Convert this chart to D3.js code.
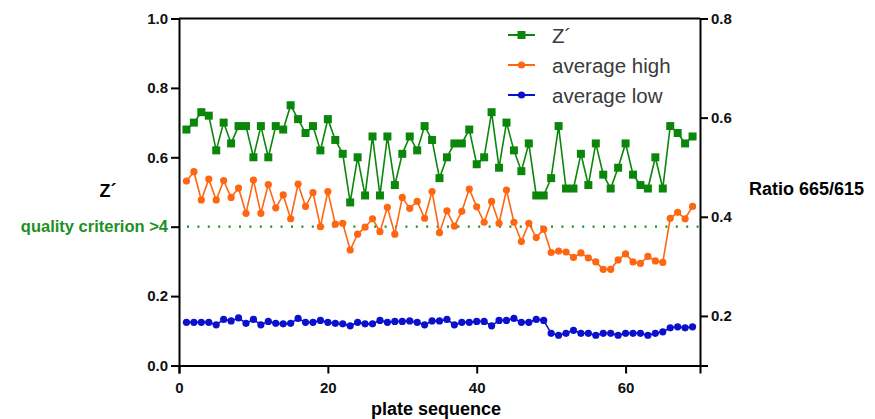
<!DOCTYPE html>
<html>
<head>
<meta charset="utf-8">
<script src="https://cdn.jsdelivr.net/npm/d3@7"></script>
<style>
  body { margin: 0; background: #fff; }
  svg { font-family: "Liberation Sans", Arial, sans-serif; }
</style>
</head>
<body>
<svg id="chart" width="875" height="419"></svg>
<script>
// waarden, plaat 1..69
const zPrime = [0.68,0.70,0.73,0.72,0.62,0.70,0.64,0.69,0.69,0.60,0.69,0.60,0.69,0.68,0.75,0.71,0.67,0.69,0.62,0.71,0.65,0.61,0.47,
    0.60,0.49,0.66,0.49,0.66,0.52,0.61,0.66,0.62,0.69,0.65,0.54,0.60,0.64,0.64,0.68,0.58,0.60,0.73,0.57,0.70,0.62,0.56,0.64,
    0.49,0.49,0.54,0.69,0.51,0.51,0.61,0.52,0.64,0.55,0.51,0.57,0.64,0.55,0.52,0.51,0.60,0.51,0.69,0.67,0.64,0.66];

const avgHigh = [0.472,0.491,0.434,0.476,0.434,0.473,0.439,0.458,0.407,0.474,0.407,0.465,0.418,0.444,0.396,0.466,0.421,0.449,0.380,0.451,0.385,0.387,0.333,
    0.365,0.379,0.396,0.370,0.419,0.365,0.439,0.417,0.431,0.397,0.451,0.368,0.412,0.381,0.411,0.456,0.420,0.389,0.431,0.387,0.454,0.389,0.350,0.387,
    0.358,0.375,0.328,0.331,0.329,0.318,0.327,0.317,0.309,0.294,0.294,0.313,0.325,0.309,0.306,0.320,0.311,0.308,0.397,0.409,0.396,0.421];

const avgLow = [0.187,0.187,0.187,0.187,0.182,0.193,0.190,0.196,0.185,0.193,0.182,0.189,0.185,0.184,0.185,0.195,0.187,0.187,0.191,0.187,0.185,0.184,0.180,
    0.187,0.184,0.184,0.191,0.187,0.189,0.189,0.190,0.187,0.182,0.190,0.190,0.193,0.182,0.187,0.187,0.189,0.189,0.180,0.191,0.191,0.195,0.187,0.187,
    0.193,0.191,0.165,0.161,0.165,0.171,0.165,0.165,0.161,0.165,0.165,0.161,0.165,0.165,0.165,0.161,0.165,0.168,0.176,0.178,0.176,0.178];

const xTicks = [0, 20, 40, 60];
const yLeftTicks = [0.0, 0.2, 0.4, 0.6, 0.8, 1.0];
const yRightTicks = [0.2, 0.4, 0.6, 0.8];
const qualityLimit = 0.4;

const series = [
    { name: "Z´", values: zPrime, axis: "left", color: "#0a870a", shape: "square" },
    { name: "average high", values: avgHigh, axis: "right", color: "#ff6612", shape: "circle" },
    { name: "average low", values: avgLow, axis: "right", color: "#0a10cc", shape: "circle" }
];

const svg = d3.select("#chart");
const plotLeft = 179, plotRight = 700, plotTop = 18.5, plotBottom = 365.5;

const x = d3.scaleLinear().domain([0, 70]).range([plotLeft, plotRight]);
const yL = d3.scaleLinear().domain([0, 1]).range([plotBottom, plotTop]);
const yR = d3.scaleLinear().domain([0.1, 0.8]).range([plotBottom, plotTop]);

// kader boven
svg.append("line")
    .attr("x1", plotLeft).attr("x2", plotRight)
    .attr("y1", plotTop).attr("y2", plotTop)
    .attr("stroke", "#000").attr("stroke-width", 2);

// assen
const xAxis = svg.append("g")
    .attr("transform", `translate(0,${plotBottom})`)
    .call(d3.axisBottom(x).tickValues(xTicks).tickFormat(d3.format("d")).tickSizeOuter(0).tickSize(8).tickPadding(4));

const yAxisL = svg.append("g")
    .attr("transform", `translate(${plotLeft},0)`)
    .call(d3.axisLeft(yL).tickValues(yLeftTicks).tickFormat(d3.format(".1f")).tickSizeOuter(0).tickSize(8).tickPadding(3));

const yAxisR = svg.append("g")
    .attr("transform", `translate(${plotRight},0)`)
    .call(d3.axisRight(yR).tickValues(yRightTicks).tickFormat(d3.format(".1f")).tickSizeOuter(0).tickSize(8).tickPadding(3));

[xAxis, yAxisL, yAxisR].forEach(g => {
    g.select(".domain").attr("stroke-width", 2);
    g.selectAll(".tick line").attr("stroke-width", 2);
    g.selectAll("text")
        .style("font-size", "15px")
        .style("font-weight", "bold")
        .attr("fill", "#111");
});
// de 0.4 van links wordt door de criteriumtekst vervangen
yAxisL.selectAll(".tick").filter(d => d === 0.4).select("text").remove();
xAxis.selectAll("text").attr("dy", "1em");

// kwaliteitscriterium
svg.append("line")
    .attr("x1", plotLeft + 8).attr("x2", plotRight)
    .attr("y1", yL(qualityLimit)).attr("y2", yL(qualityLimit))
    .attr("stroke", "#1a8f1a")
    .attr("stroke-width", 2.2)
    .attr("stroke-dasharray", "2,8.4");

svg.append("text")
    .attr("x", 168)
    .attr("y", yL(qualityLimit) + 5.5)
    .attr("text-anchor", "end")
    .style("font-size", "16.5px")
    .style("font-weight", "bold")
    .attr("fill", "#1f8f1f")
    .text("quality criterion >4");

// reeksen
series.forEach(s => {
    const yScale = s.axis === "left" ? yL : yR;
    const pts = s.values.map((v, i) => ({ x: i + 1, y: v }));
    const g = svg.append("g");

    g.append("path")
        .datum(pts)
        .attr("fill", "none")
        .attr("stroke", s.color)
        .attr("stroke-width", 1.6)
        .attr("d", d3.line().x(d => x(d.x)).y(d => yScale(d.y)));

    if (s.shape === "square") {
        g.selectAll("rect")
            .data(pts)
            .join("rect")
            .attr("x", d => x(d.x) - 4)
            .attr("y", d => yScale(d.y) - 4)
            .attr("width", 8)
            .attr("height", 8)
            .attr("fill", s.color);
    } else {
        g.selectAll("circle")
            .data(pts)
            .join("circle")
            .attr("cx", d => x(d.x))
            .attr("cy", d => yScale(d.y))
            .attr("r", 3.6)
            .attr("fill", s.color);
    }
});

// legenda
const legend = svg.append("g").attr("transform", "translate(508,35)");
series.forEach((s, i) => {
    const row = legend.append("g").attr("transform", `translate(0,${i * 30})`);
    row.append("line")
        .attr("x1", 0).attr("x2", 27)
        .attr("stroke", s.color).attr("stroke-width", 2);
    if (s.shape === "square") {
        row.append("rect").attr("x", 9.5).attr("y", -4).attr("width", 8).attr("height", 8).attr("fill", s.color);
    } else {
        row.append("circle").attr("cx", 13.5).attr("cy", 0).attr("r", 3.6).attr("fill", s.color);
    }
    row.append("text")
        .attr("x", 44)
        .attr("y", 8)
        .style("font-size", "20.5px")
        .attr("fill", "#3a3a3a")
        .text(s.name);
});

// aslabels
svg.append("text")
    .attr("x", 108).attr("y", 197)
    .attr("text-anchor", "middle")
    .style("font-size", "18px").style("font-weight", "bold")
    .text("Z´");

svg.append("text")
    .attr("x", 749).attr("y", 195)
    .style("font-size", "18px").style("font-weight", "bold")
    .text("Ratio 665/615");

svg.append("text")
    .attr("x", 436).attr("y", 415)
    .attr("text-anchor", "middle")
    .style("font-size", "18px").style("font-weight", "bold")
    .text("plate sequence");
</script>
</body>
</html>
